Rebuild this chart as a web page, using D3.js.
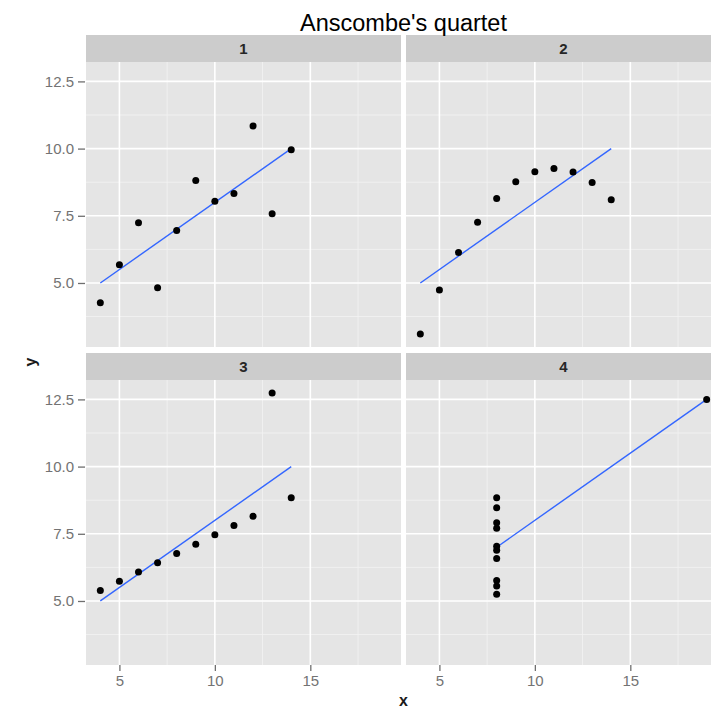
<!DOCTYPE html>
<html>
<head>
<meta charset="utf-8">
<script src="https://cdn.jsdelivr.net/npm/d3@7/dist/d3.min.js"></script>
<style>
  html, body { margin: 0; padding: 0; background: #ffffff; }
  svg { display: block; font-family: "Liberation Sans", Arial, sans-serif; }
</style>
</head>
<body>
<svg id="chart" width="711" height="710"></svg>
<script>
// Anscombe's quartet
const setNames = ["1", "2", "3", "4"];
const x123 = [10, 8, 13, 9, 11, 14, 6, 4, 12, 7, 5];
const x4   = [8, 8, 8, 8, 8, 8, 8, 19, 8, 8, 8];
const y1 = [8.04, 6.95, 7.58, 8.81, 8.33, 9.96, 7.24, 4.26, 10.84, 4.82, 5.68];
const y2 = [9.14, 8.14, 8.74, 8.77, 9.26, 8.10, 6.13, 3.10, 9.13, 7.26, 4.74];
const y3 = [7.46, 6.77, 12.74, 7.11, 7.81, 8.84, 6.08, 5.39, 8.15, 6.42, 5.73];
const y4 = [6.58, 5.76, 7.71, 8.84, 8.47, 7.04, 5.25, 12.50, 5.56, 7.91, 6.89];
const xBreaks = [5, 10, 15];
const xMinor = [7.5, 12.5, 17.5];
const yBreaks = [5, 7.5, 10, 12.5];
const yMinor = [3.75, 6.25, 8.75, 11.25];
const titleText = "Anscombe's quartet";

const sets = [
  { name: setNames[0], xs: x123, ys: y1 },
  { name: setNames[1], xs: x123, ys: y2 },
  { name: setNames[2], xs: x123, ys: y3 },
  { name: setNames[3], xs: x4,   ys: y4 }
];

// shared scales over all panels, padded by 5% each side
const allX = x123.concat(x4);
const allY = y1.concat(y2, y3, y4);
const pad = (lo, hi) => { const d = (hi - lo) * 0.05; return [lo - d, hi + d]; };
const xDom = pad(d3.min(allX), d3.max(allX));
const yDom = pad(d3.min(allY), d3.max(allY));

// layout
const left = 86, panelW = 315, hGap = 5;
const top0 = 35, stripH = 27, panelH = 285, vGap = 6;

const svg = d3.select("#chart");

function linFit(xs, ys) {
  const mx = d3.mean(xs), my = d3.mean(ys);
  let sxy = 0, sxx = 0;
  xs.forEach((v, i) => { sxy += (v - mx) * (ys[i] - my); sxx += (v - mx) * (v - mx); });
  const b = sxy / sxx;
  return { a: my - b * mx, b: b };
}

sets.forEach((s, i) => {
  const col = i % 2, row = Math.floor(i / 2);
  const px = left + col * (panelW + hGap);
  const sy = top0 + row * (stripH + panelH + vGap);
  const py = sy + stripH;

  const x = d3.scaleLinear().domain(xDom).range([px, px + panelW]);
  const y = d3.scaleLinear().domain(yDom).range([py + panelH, py]);

  const g = svg.append("g");

  // strip
  g.append("rect").attr("x", px).attr("y", sy).attr("width", panelW).attr("height", stripH)
    .attr("fill", "#cccccc");
  g.append("text").attr("x", px + panelW / 2).attr("y", sy + stripH / 2 + 5.5)
    .attr("text-anchor", "middle").attr("font-size", 15).attr("font-weight", "bold")
    .attr("fill", "#262626")
    .text(s.name);

  // panel background
  g.append("rect").attr("x", px).attr("y", py).attr("width", panelW).attr("height", panelH)
    .attr("fill", "#e5e5e5");

  // minor grid
  g.selectAll(null).data(xMinor).enter().append("line")
    .attr("x1", d => x(d)).attr("x2", d => x(d)).attr("y1", py).attr("y2", py + panelH)
    .attr("stroke", "#f2f2f2").attr("stroke-width", 0.9);
  g.selectAll(null).data(yMinor).enter().append("line")
    .attr("y1", d => y(d)).attr("y2", d => y(d)).attr("x1", px).attr("x2", px + panelW)
    .attr("stroke", "#f2f2f2").attr("stroke-width", 0.9);
  // major grid
  g.selectAll(null).data(xBreaks).enter().append("line")
    .attr("x1", d => x(d)).attr("x2", d => x(d)).attr("y1", py).attr("y2", py + panelH)
    .attr("stroke", "#ffffff").attr("stroke-width", 1.6);
  g.selectAll(null).data(yBreaks).enter().append("line")
    .attr("y1", d => y(d)).attr("y2", d => y(d)).attr("x1", px).attr("x2", px + panelW)
    .attr("stroke", "#ffffff").attr("stroke-width", 1.6);

  // fitted line
  const f = linFit(s.xs, s.ys);
  const x0 = d3.min(s.xs), x1 = d3.max(s.xs);
  g.append("line")
    .attr("x1", x(x0)).attr("y1", y(f.a + f.b * x0))
    .attr("x2", x(x1)).attr("y2", y(f.a + f.b * x1))
    .attr("stroke", "#3366ff").attr("stroke-width", 1.4);

  // points
  g.selectAll(null).data(s.xs.map((v, k) => [v, s.ys[k]])).enter().append("circle")
    .attr("cx", d => x(d[0])).attr("cy", d => y(d[1])).attr("r", 3.5)
    .attr("fill", "#000000");

  // y axis on the left column
  if (col === 0) {
    const ax = g.append("g").attr("transform", `translate(${px - 1},0)`)
      .call(d3.axisLeft(y).tickValues(yBreaks).tickFormat(d3.format(".1f"))
        .tickSize(7).tickPadding(4));
    ax.select(".domain").remove();
    ax.selectAll(".tick line").attr("stroke", "#6f6f6f").attr("stroke-width", 1.3);
    ax.selectAll(".tick text").attr("fill", "#737373").attr("font-size", 15)
      .attr("font-family", "Liberation Sans, Arial, sans-serif");
  }
  // x axis on the bottom row
  if (row === 1) {
    const ax = g.append("g").attr("transform", `translate(0,${py + panelH})`)
      .call(d3.axisBottom(x).tickValues(xBreaks).tickFormat(d3.format("d"))
        .tickSize(6).tickPadding(4));
    ax.select(".domain").remove();
    ax.selectAll(".tick line").attr("stroke", "#6f6f6f").attr("stroke-width", 1.3);
    ax.selectAll(".tick text").attr("fill", "#737373").attr("font-size", 15)
      .attr("font-family", "Liberation Sans, Arial, sans-serif");
  }
});

// title and axis titles
svg.append("text").attr("x", left + (2 * panelW + hGap) / 2).attr("y", 31)
  .attr("text-anchor", "middle").attr("font-size", 23.5).attr("fill", "#000000")
  .text(titleText);
svg.append("text").attr("x", left + (2 * panelW + hGap) / 2).attr("y", 706)
  .attr("text-anchor", "middle").attr("font-size", 16).attr("font-weight", "bold")
  .attr("fill", "#1a1a1a")
  .text("x");
svg.append("text").attr("transform", "translate(36,362) rotate(-90)")
  .attr("text-anchor", "middle").attr("font-size", 16).attr("font-weight", "bold")
  .attr("fill", "#1a1a1a")
  .text("y");
</script>
</body>
</html>
